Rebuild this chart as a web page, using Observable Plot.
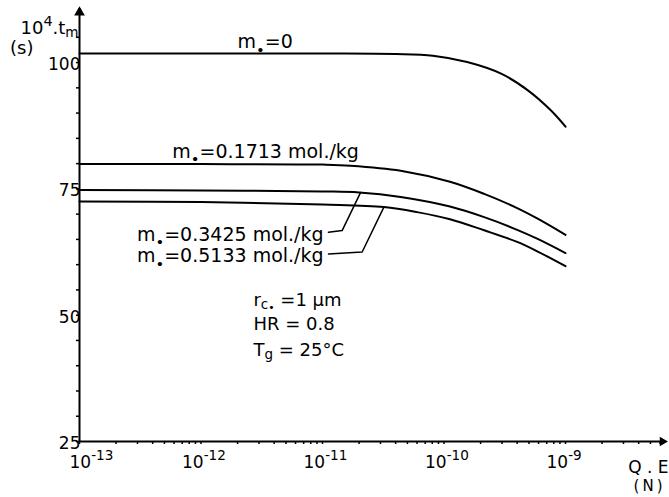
<!DOCTYPE html>
<html><head><meta charset="utf-8">
<script src="https://cdn.jsdelivr.net/npm/d3@7"></script>
<script src="https://cdn.jsdelivr.net/npm/@observablehq/plot@0.6"></script>
<style>body{margin:0;background:#fff}svg{display:block}</style>
</head><body><div id="chart"></div>
<script>
// ---- data ----
const seriesNames = ["m0=0", "m0=0.1713", "m0=0.3425", "m0=0.5133"];
const qeM0 = [1e-13, 1e-11, 4e-11, 8.1e-11, 1.55e-10, 2.95e-10, 4.9e-10, 7.6e-10, 1e-9];
const tmM0 = [101.8, 101.8, 101.7, 101.35, 100.1, 97.8, 94.5, 90.5, 87.3];
const qeM1 = [1e-13, 1e-12, 1e-11, 1.7e-11, 4.4e-11, 1.12e-10, 2.14e-10, 4e-10, 5.9e-10, 1e-9];
const tmM1 = [79.9, 79.9, 79.8, 79.6, 78.6, 76.4, 74.0, 71.2, 69.1, 65.9];
const qeM2 = [1e-13, 1e-12, 1e-11, 2e-11, 4.4e-11, 1.12e-10, 2.14e-10, 4e-10, 5.9e-10, 1e-9];
const tmM2 = [74.8, 74.7, 74.5, 74.3, 73.4, 71.5, 69.4, 66.9, 65.1, 62.3];
const qeM3 = [1e-13, 1e-12, 1e-11, 3.2e-11, 6e-11, 1.12e-10, 2.14e-10, 4e-10, 5.9e-10, 1e-9];
const tmM3 = [72.5, 72.4, 71.9, 71.4, 70.4, 69.0, 66.8, 64.5, 62.6, 59.7];

const xDecades = [1e-13, 1e-12, 1e-11, 1e-10, 1e-9];
const xTickLabels = ["10^{-13}", "10^{-12}", "10^{-11}", "10^{-10}", "10^{-9}"];
const yTicks = [25, 50, 75, 100];
const yMinorTicks = [25, 30, 35, 40, 45, 50, 55, 60, 65, 70, 75, 80, 85, 90, 95, 100, 105];
const curveLabels = ["m_{•}=0", "m_{•}=0.1713 mol./kg", "m_{•}=0.3425 mol./kg", "m_{•}=0.5133 mol./kg"];
const paramLines = ["r_{c}_{•} =1 μm", "HR = 0.8", "T_{g} = 25°C"];

// ---- build tables ----
const qeAll = [qeM0, qeM1, qeM2, qeM3];
const tmAll = [tmM0, tmM1, tmM2, tmM3];
const rows = seriesNames.flatMap((s, i) => qeAll[i].map((q, j) => ({series: s, qe: q, tm: tmAll[i][j]})));
const xMinorTicks = xDecades.slice(0, 4).flatMap(d => [1,2,3,4,5,6,7,8,9].map(k => k * d)).concat([1e-9, 2e-9, 3e-9, 4e-9, 5e-9, 6e-9]);

const X_MAX = 6.65e-9, Y_MAX = 110.7;
const font = "'DejaVu Sans', sans-serif";

const plot = Plot.plot({
  width: 669, height: 497,
  marginLeft: 79, marginRight: 4, marginTop: 8, marginBottom: 56,
  style: {fontFamily: font, fontSize: "19px", color: "#000", background: "#fff", overflow: "visible"},
  x: {type: "log", domain: [1e-13, X_MAX]},
  y: {domain: [25, Y_MAX]},
  marks: [
    Plot.axisX({ticks: xMinorTicks, tickSize: 3, tickFormat: () => "", label: null, strokeWidth: 1.5}),
    Plot.axisY({ticks: yMinorTicks, tickSize: 3, tickFormat: () => "", label: null, strokeWidth: 1.5}),
    Plot.ruleY([25], {strokeWidth: 2}),
    Plot.ruleX([1e-13], {strokeWidth: 2}),
    Plot.dot([0], {x: () => 1e-13, y: () => Y_MAX, symbol: "triangle", r: 4, fill: "black", dy: 4}),
    Plot.dot([0], {x: () => X_MAX, y: () => 25, symbol: "triangle", r: 3.5, fill: "black", rotate: 90, dx: -3}),
    // y tick labels
    Plot.text(yTicks, {frameAnchor: "left", y: d => d, text: d => String(d), textAnchor: "end", dx: 1, dy: 2, fontSize: 17}),
    // x tick labels
    Plot.text(xDecades.slice(0, 1), {x: d => d, frameAnchor: "bottom", text: (d, i) => xTickLabels[i], textAnchor: "start", dx: -10, dy: 26, lineAnchor: "bottom", fontSize: 17}),
    Plot.text(xDecades.slice(1), {x: d => d, frameAnchor: "bottom", text: (d, i) => xTickLabels[i + 1], textAnchor: "start", dx: -19, dy: 26, lineAnchor: "bottom", fontSize: 17}),
    // axis titles
    Plot.text([0], {frameAnchor: "left", y: () => 105.7, text: () => "10^{4}.t_{m}", textAnchor: "end", dx: -1, lineAnchor: "bottom", fontSize: 18}),
    Plot.text([0], {frameAnchor: "left", y: () => 101.6, text: () => "(s)", textAnchor: "end", dx: -46, lineAnchor: "bottom", fontSize: 18}),
    Plot.text([0], {frameAnchor: "bottom-right", text: () => "Q . E", textAnchor: "end", dx: 3, dy: 31, lineAnchor: "bottom", fontSize: 17}),
    Plot.text([0], {frameAnchor: "bottom-right", text: () => "(N)", textAnchor: "end", dx: 0, dy: 49, lineAnchor: "bottom", fontSize: 15}),
    // curves
    Plot.line(rows, {x: "qe", y: "tm", z: "series", curve: "catmull-rom", strokeWidth: 2, stroke: "black"}),
    // curve labels
    Plot.text([0], {x: () => 2.0e-12, y: () => 102.8, text: () => curveLabels[0], textAnchor: "start", lineAnchor: "bottom", fontSize: 19}),
    Plot.text([0], {x: () => 5.8e-13, y: () => 81.2, text: () => curveLabels[1], textAnchor: "start", lineAnchor: "bottom", fontSize: 19}),
    Plot.text([0], {x: () => 1.02e-11, y: () => 64.7, text: () => curveLabels[2], textAnchor: "end", lineAnchor: "bottom", fontSize: 19}),
    Plot.text([0], {x: () => 1.02e-11, y: () => 60.5, text: () => curveLabels[3], textAnchor: "end", lineAnchor: "bottom", fontSize: 19}),
    // leader lines
    Plot.line([[1.12e-11, 66.4], [1.45e-11, 66.75], [2.06e-11, 74.3]], {x: d => d[0], y: d => d[1], strokeWidth: 1.5}),
    Plot.line([[1.12e-11, 62.1], [2.12e-11, 62.5], [3.2e-11, 71.4]], {x: d => d[0], y: d => d[1], strokeWidth: 1.5}),
    // parameters
    Plot.text(paramLines, {x: () => 2.7e-12, y: (d, i) => [51.9, 47.0, 42.0][i], text: d => d, textAnchor: "start", lineAnchor: "bottom", fontSize: 18})
  ]
});
document.getElementById("chart").appendChild(plot);

// rich text: ^{sup} and _{sub}
function richify(svg) {
  svg.querySelectorAll("text").forEach(t => {
    const s = t.textContent;
    if (s === "(N)") t.setAttribute("letter-spacing", "3");
    if (!/[_^]\{/.test(s)) return;
    const fs = parseFloat(getComputedStyle(t).fontSize) || 19;
    const big = s.startsWith("m_");
    while (t.firstChild) t.removeChild(t.firstChild);
    const re = /(_|\^)\{([^}]*)\}|([^_^]+)/g;
    let m, off = 0;
    while ((m = re.exec(s))) {
      const ts = document.createElementNS("http://www.w3.org/2000/svg", "tspan");
      let target, size;
      if (m[3] !== undefined) { target = 0; size = fs; ts.textContent = m[3]; }
      else if (m[1] === "^") { target = -0.45 * fs; size = 0.8 * fs; ts.textContent = m[2]; }
      else {
        const dot = m[2] === "•";
        target = 0.2 * fs + (dot ? (big ? 0.14 : 0.1) * fs : 0);
        size = (dot ? (big ? 0.78 : 0.6) : 0.75) * fs; ts.textContent = m[2];
      }
      ts.setAttribute("dy", (target - off).toFixed(2));
      ts.setAttribute("font-size", size.toFixed(2));
      off = target;
      t.appendChild(ts);
    }
  });
}
richify(plot);
</script>
</body></html>
